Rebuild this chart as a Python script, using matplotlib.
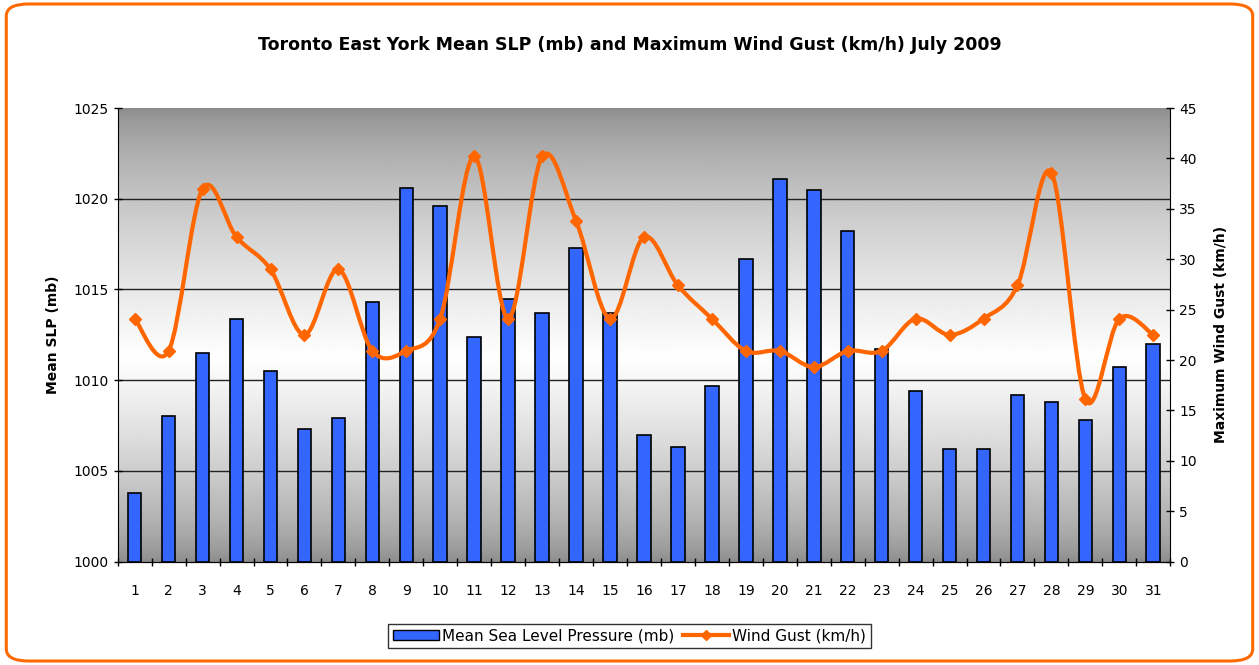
import numpy as np
import matplotlib
matplotlib.use('Agg')
import matplotlib.pyplot as plt
from matplotlib.path import Path
from matplotlib.patches import PathPatch, FancyBboxPatch
from matplotlib.lines import Line2D
from matplotlib.patches import Patch

# ==========================================
# dados
# ==========================================
dias = list(range(1, 32))
slp = [1003.8, 1008.0, 1011.5, 1013.4, 1010.5, 1007.3, 1007.9, 1014.3, 1020.6, 1019.6,
       1012.4, 1014.5, 1013.7, 1017.3, 1013.7, 1007.0, 1006.3, 1009.7, 1016.7, 1021.1,
       1020.5, 1018.2, 1011.7, 1009.4, 1006.2, 1006.2, 1009.2, 1008.8, 1007.8, 1010.7,
       1012.0]
rajada = [24.1, 20.9, 37.0, 32.2, 29.0, 22.5, 29.0, 20.9, 20.9, 24.1,
          40.2, 24.1, 40.2, 33.8, 24.1, 32.2, 27.4, 24.1, 20.9, 20.9,
          19.3, 20.9, 20.9, 24.1, 22.5, 24.1, 27.4, 38.6, 16.1, 24.1,
          22.5]

titulo = 'Toronto East York Mean SLP (mb) and Maximum Wind Gust (km/h) July 2009'
cor_barra = '#3366ff'
cor_linha = '#ff6600'

plt.rcParams['font.family'] = ['DejaVu Sans']

fig = plt.figure(figsize=(12.59, 6.65), dpi=100)

# moldura laranja arredondada
moldura = FancyBboxPatch((0.005, 0.006), 0.99, 0.988,
                         boxstyle='round,pad=0,rounding_size=0.018',
                         transform=fig.transFigure, facecolor='white',
                         edgecolor='#ff6a00', linewidth=2.2, zorder=0)
fig.patches.append(moldura)

ax = fig.add_axes([0.0935, 0.1555, 0.836, 0.682])
x = np.arange(len(dias))

# fundo em degradê cinza (escuro nas bordas, claro no meio)
t = np.linspace(0, 1, 256)
grad = np.where(t < 0.55, t / 0.55, (1 - t) / 0.45)
grad = 0.55 + 0.45 * np.clip(grad, 0, 1) ** 0.7
ax.imshow(grad[:, None], aspect='auto', cmap='gray', vmin=0, vmax=1,
          extent=(-0.5, len(dias) - 0.5, 1000, 1025), origin='upper', zorder=0)

ax.bar(x, [v - 1000 for v in slp], bottom=1000, width=0.4, color=cor_barra,
       edgecolor='black', linewidth=1.2, zorder=3)

ax.set_xlim(-0.5, len(dias) - 0.5)
ax.set_ylim(1000, 1025)
ax.set_yticks(range(1000, 1026, 5))
ax.set_xticks(x)
ax.set_xticklabels([str(d) for d in dias], fontsize=10)
ax.set_xticks(np.arange(-0.5, len(dias), 1), minor=True)
ax.tick_params(axis='x', which='major', length=0, pad=16)
ax.tick_params(axis='x', which='minor', length=6, direction='inout', width=1)
ax.tick_params(axis='y', length=6, direction='inout', labelsize=10, width=1)
for g in range(1005, 1025, 5):
    ax.axhline(g, color='#222222', linewidth=1, zorder=1)
for s in ['top', 'right']:
    ax.spines[s].set_visible(False)
ax.set_ylabel('Mean SLP (mb)', fontsize=10, fontweight='bold', labelpad=10)

# eixo da direita
ax2 = ax.twinx()
ax2.set_ylim(0, 45)
ax2.set_yticks(range(0, 46, 5))
ax2.tick_params(axis='y', length=6, direction='inout', labelsize=10, width=1)
for s in ['top', 'left']:
    ax2.spines[s].set_visible(False)
ax2.set_ylabel('Maximum Wind Gust (km/h)', fontsize=10, fontweight='bold', labelpad=12)

# linha suavizada (bezier estilo excel)
px = list(x.astype(float))
py = list(rajada)
verts = [(px[0], py[0])]
codes = [Path.MOVETO]
n = len(px)
for i in range(n - 1):
    p0 = (px[max(i - 1, 0)], py[max(i - 1, 0)])
    p1 = (px[i], py[i])
    p2 = (px[i + 1], py[i + 1])
    p3 = (px[min(i + 2, n - 1)], py[min(i + 2, n - 1)])
    c1 = (p1[0] + (p2[0] - p0[0]) / 6, p1[1] + (p2[1] - p0[1]) / 6)
    c2 = (p2[0] - (p3[0] - p1[0]) / 6, p2[1] - (p3[1] - p1[1]) / 6)
    verts += [c1, c2, p2]
    codes += [Path.CURVE4] * 3
curva = PathPatch(Path(verts, codes), facecolor='none', edgecolor=cor_linha,
                  linewidth=3, zorder=4, capstyle='round', joinstyle='round')
ax2.add_patch(curva)
ax2.plot(x, rajada, linestyle='none', marker='D', markersize=6.5, color=cor_linha, zorder=5)

ax.set_zorder(1)
ax2.set_zorder(2)
ax2.patch.set_visible(False)

fig.text(0.5, 0.933, titulo, ha='center', va='center', fontsize=12.5, fontweight='bold')

handles = [Patch(facecolor=cor_barra, edgecolor='black'),
           Line2D([0], [0], color=cor_linha, linewidth=3, marker='D', markersize=5)]
leg = fig.legend(handles, ['Mean Sea Level Pressure (mb)', 'Wind Gust (km/h)'],
                 loc='center', bbox_to_anchor=(0.5, 0.044), ncol=2, fontsize=11,
                 frameon=True, fancybox=False, handlelength=3.0, handletextpad=0.2,
                 columnspacing=0.6, borderpad=0.3)
leg.get_frame().set_edgecolor('black')
leg.get_frame().set_linewidth(1)

plt.savefig('out.png', dpi=100)
